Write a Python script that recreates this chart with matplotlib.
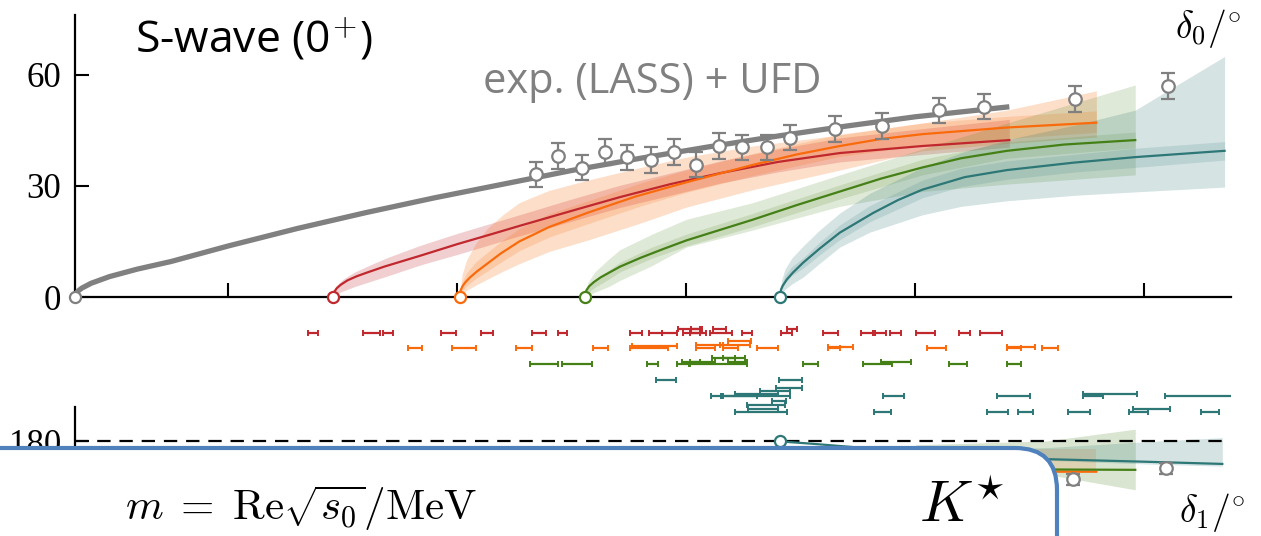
import numpy as np
import matplotlib
matplotlib.use("Agg")
import matplotlib.pyplot as plt
from matplotlib.patches import FancyBboxPatch

plt.rcParams['mathtext.fontset'] = 'cm'

# ---------------------------------------------------------------
# data (m in MeV, phases in degrees)
# ---------------------------------------------------------------
m_min, m_max = 633.0, 1137.8
thresholds = [633.0, 745.7, 801.0, 855.7, 940.9]

# experiment (LASS) S-wave points
lass_m = [834.3, 843.9, 854.4, 864.4, 874.0, 884.5, 894.6, 904.2, 914.2, 924.3,
          935.2, 945.2, 964.9, 985.4, 1010.3, 1030.0, 1069.7, 1110.3]
lass_d0 = [33.2, 38.1, 34.9, 39.2, 37.8, 37.0, 39.2, 35.7, 40.8, 40.5,
           40.5, 43.0, 45.4, 46.2, 50.5, 51.4, 53.5, 57.0]
lass_err = [3.4, 3.4, 3.4, 3.4, 3.4, 3.4, 3.4, 3.4, 3.4, 3.4,
            3.4, 3.4, 3.4, 3.4, 3.4, 3.4, 3.5, 3.5]

# UFD curve
ufd_m = [633, 633.5, 634.5, 636, 640, 648, 660, 675, 700, 730, 760, 790, 820, 850, 880, 910,
         940, 970, 1000, 1041]
ufd_d0 = [0, 1.0, 1.7, 2.4, 3.7, 5.5, 7.5, 9.6, 13.8, 18.5, 22.8, 26.8, 30.5, 34.2, 37.5,
          40.6, 43.5, 46.2, 48.7, 51.4]

# lattice fits, S-wave (central curves)
red_m = [745.7, 746.2, 747.2, 749, 752, 756, 760.5, 768, 776, 784, 800, 815, 827, 850, 871,
         893, 915, 940, 967, 1003, 1041]
red_d0 = [0, 1.4, 2.3, 3.3, 4.5, 5.6, 6.6, 8.2, 9.7, 11.2, 14.3, 17.0, 19.2, 23.3, 27.0,
          30.5, 33.5, 36.5, 38.9, 40.8, 42.4]
ora_m = [801, 801.4, 802.2, 803.5, 805.5, 808.5, 813, 819, 827, 840, 857, 878, 900, 929, 948,
         967, 985, 1003, 1040, 1079]
ora_d0 = [0, 1.8, 2.9, 4.0, 5.3, 6.9, 9.0, 11.8, 15.0, 18.9, 22.8, 27.2, 31.0, 35.7, 38.5,
          40.8, 42.7, 44.0, 45.8, 47.1]
grn_m = [855.7, 856.3, 857.5, 859.5, 862.5, 866, 871, 880, 890, 900, 915, 929, 948, 967, 985,
         1003, 1020, 1040, 1065, 1096]
grn_d0 = [0, 1.8, 2.9, 4.0, 5.3, 6.5, 8.2, 10.6, 13.0, 15.3, 18.2, 20.9, 24.8, 28.5, 32.0,
          35.0, 37.5, 39.5, 41.2, 42.4]
tea_m = [940.9, 941.3, 942, 943.8, 946.5, 951, 958.4, 967, 981.5, 992.4, 1003, 1021.6, 1040,
         1069, 1096, 1135]
tea_d0 = [0, 2.0, 3.0, 4.7, 6.6, 9.3, 13.2, 17.4, 22.7, 26.2, 29.0, 32.4, 34.3, 36.3, 37.8, 39.5]

# error bands (outer, inner)
red_bm = [745.7, 747, 750, 755, 762, 770, 784, 800, 827, 850, 871, 895, 915, 940, 967, 1003, 1041]
red_lo = [0, 0.8, 1.6, 2.8, 4.2, 5.8, 8.7, 11.5, 16.5, 20.5, 24.2, 27.8, 30.8, 33.8, 36.5, 38.5, 40.5]
red_hi = [0, 3.0, 4.8, 6.7, 8.7, 10.8, 14.0, 17.2, 22.2, 26.5, 30.2, 33.8, 36.8, 40.0, 43.0, 45.5, 48.0]

ora_bm = [801, 802, 804, 808, 813, 820, 827, 840, 857, 880, 900, 929, 967, 1003, 1040, 1079]
ora_lo = [0, 0.8, 1.8, 3.2, 4.8, 7.0, 9.0, 12.3, 15.4, 20.0, 24.3, 29.0, 34.3, 39.5, 41.5, 43.2]
ora_hi = [0, 6.0, 10.0, 14.5, 18.5, 22.3, 25.5, 28.8, 31.6, 35.0, 37.8, 40.8, 43.8, 47.0, 50.5, 55.7]
ora_lo2 = [0, 1.5, 3.0, 5.0, 7.0, 9.8, 12.5, 16.2, 19.8, 24.6, 28.3, 32.8, 38.0, 41.0, 42.8, 44.5]
ora_hi2 = [0, 4.0, 6.5, 9.5, 12.0, 15.5, 18.5, 22.5, 26.0, 30.8, 34.3, 38.8, 44.0, 47.0, 48.8, 50.3]

grn_bm = [855.7, 857, 860, 866, 871, 885, 900, 929, 967, 1003, 1040, 1096]
grn_lo = [0, 0.5, 1.3, 2.8, 4.5, 8.5, 13.5, 18.1, 24.5, 28.5, 30.5, 33.0]
grn_hi = [0, 4.0, 6.8, 10.2, 12.8, 17.0, 21.0, 25.5, 33.0, 40.0, 47.0, 57.3]
grn_lo2 = [0, 1.2, 2.6, 4.8, 6.8, 10.5, 13.8, 19.0, 26.5, 33.0, 37.5, 40.3]
grn_hi2 = [0, 2.8, 4.6, 7.2, 9.4, 13.5, 17.0, 22.6, 30.3, 37.2, 41.9, 44.6]

tea_bm = [940.9, 941.5, 943, 946, 951, 958, 967, 980, 1003, 1020, 1040, 1070, 1096, 1135]
tea_lo = [0, 0.8, 2.0, 3.5, 5.4, 9.0, 13.5, 17.5, 22.2, 24.5, 26.0, 27.5, 28.4, 29.7]
tea_hi = [0, 4.5, 7.5, 10.5, 13.8, 18.0, 22.7, 28.0, 35.0, 39.0, 42.5, 46.5, 50.5, 65.0]
tea_lo2 = [0, 1.8, 3.8, 5.8, 7.8, 11.3, 15.5, 20.3, 26.8, 29.8, 31.8, 33.8, 35.0, 37.0]
tea_hi2 = [0, 3.2, 5.8, 8.2, 10.6, 14.7, 19.5, 24.7, 31.6, 34.8, 36.8, 38.6, 40.2, 42.0]

# P-wave (visible part)
p_tea_m = [940.9, 945, 954, 980, 1020, 1057, 1100, 1134]
p_tea_d1 = [180, 179.7, 179.3, 178.0, 176.5, 175.1, 174.4, 173.8]
p_tea_band_m = [1040, 1057, 1100, 1134]
p_tea_lo = [174.8, 174.8, 173.8, 173.2]
p_tea_hi = [178.0, 178.2, 179.8, 180.9]
p_grn_m = [1000, 1057, 1096]
p_grn_d1 = [173.5, 172.3, 172.2]
p_grn_lo = [173.0, 171.0, 166.8]
p_grn_hi = [179.0, 180.0, 183.2]
p_ora_m = [1000, 1061.7, 1079]
p_ora_d1 = [172.5, 171.7, 171.7]
p_ora_lo = [171.4, 171.4, 171.4]
p_ora_hi = [177.8, 177.8, 177.8]
lass_p_m = [1068.9, 1109.4]
lass_d1 = [169.6, 172.6]
lass_p_err = [1.6, 1.5]

# mass ranges (pole positions) per ensemble, row = stacking level
red_ml = [734.9, 758.9, 767.4, 792.7, 810.3, 832.4, 843.8, 875.4, 883.8, 889.2, 896.4, 898.5, 901.6,
          902.0, 910.3, 911.4, 924.1, 941.2, 943.8, 959.8, 976.1, 982.3, 988.9, 1000.2, 1018.9, 1028.2]
red_mh = [739.0, 766.2, 772.0, 799.2, 815.4, 838.5, 848.0, 880.5, 889.2, 895.7, 905.9, 905.9, 908.5,
          907.0, 919.8, 917.3, 928.8, 946.0, 948.4, 966.0, 981.6, 987.0, 993.7, 1008.5, 1023.8, 1037.7]
red_row = [0, 0, 0, 0, 0, 0, 0, 0, 0, 0, -0.2, 0, 0,
           -0.25, 0, -0.2, 0, 0, -0.2, 0, 0, 0, 0, 0, 0, 0]

ora_ml = [778.3, 797.5, 825.6, 859.3, 875.4, 876.4, 904.2, 904.2, 915.8, 914.7, 918.3, 930.7,
          961.7, 961.7, 1004.9, 1040.1, 1040.1, 1055.4]
ora_mh = [784.4, 808.1, 832.7, 865.9, 892.1, 896.0, 912.5, 916.1, 922.4, 927.8, 928.2, 940.1,
          972.9, 967.0, 1013.2, 1052.2, 1046.0, 1062.1]
ora_row = [1, 1, 1, 1, 1, 0.85, 1, 0.75, 1, 0.75, 0.52, 1,
           0.88, 1, 1, 0.88, 1, 1]

grn_ml = [831.7, 845.8, 882.6, 895.7, 897.9, 901.6, 901.6, 911.0, 916.1, 918.3, 951.0, 977.2,
          985.0, 1014.7, 1040.1]
grn_mh = [844.0, 858.9, 887.7, 901.3, 905.9, 912.5, 926.3, 921.2, 925.6, 926.3, 957.3, 989.6,
          998.1, 1022.4, 1045.9]
grn_row = [2, 2, 2, 2, 1.85, 1.85, 2, 1.6, 1.6, 1.85, 2, 2,
           1.85, 2, 2]

tea_ml = [886.7, 940.6, 939.1, 932.1, 910.6, 914.9, 915.8, 921.0, 986.0, 1035.7, 1073.3, 1073.3,
          1109.0, 921.2, 926.3, 937.2, 927.0, 981.9, 1031.1, 1044.9, 1066.8, 1093.3, 1095.1, 1124.7]
tea_mh = [895.3, 950.3, 950.3, 945.2, 914.9, 945.2, 930.7, 940.0, 995.1, 1050.0, 1096.6, 1082.0,
          1138.5, 943.8, 943.0, 943.5, 940.0, 989.3, 1040.5, 1051.5, 1076.2, 1101.4, 1111.2, 1132.7]
tea_row = [3, 3, 3.5, 3.7, 4, 4, 4, 3.85, 4, 4, 3.9, 4,
           4, 5, 4.6, 4.35, 4.8, 5, 5, 5, 5, 5, 4.85, 5]

# ---------------------------------------------------------------
grey = '#808080'
c_red, c_ora, c_grn, c_tea = '#c0282e', '#f96a0c', '#458017', '#2d7776'
serif = ['Liberation Serif', 'DejaVu Serif']
sans = ['Open Sans', 'DejaVu Sans']

W, H = 1261, 536
fig = plt.figure(figsize=(W / 100, H / 100), dpi=100)


def px_axes(x0, y0, x1, y1):
    # figure-pixel box (top-left origin) -> axes
    return fig.add_axes([x0 / W, 1 - y1 / H, (x1 - x0) / W, (y1 - y0) / H])


# ---------- top panel: S-wave ----------
ax = px_axes(75, 15, 1231, 297)
ax.set_xlim(m_min, m_max)
ax.set_ylim(0, 76.2)

bands = [(red_bm, red_lo, red_hi, c_red, 0.22), (ora_bm, ora_lo, ora_hi, c_ora, 0.22),
         (ora_bm, ora_lo2, ora_hi2, c_ora, 0.18), (grn_bm, grn_lo, grn_hi, c_grn, 0.17),
         (grn_bm, grn_lo2, grn_hi2, c_grn, 0.15), (tea_bm, tea_lo, tea_hi, c_tea, 0.2),
         (tea_bm, tea_lo2, tea_hi2, c_tea, 0.15)]
for mm, lo, hi, c, a in bands:
    ax.fill_between(mm, lo, hi, color=c, alpha=a, lw=0)

ax.plot(ufd_m, ufd_d0, color=grey, lw=3.8, solid_capstyle='butt', zorder=3)
for mm, dd, c in [(red_m, red_d0, c_red), (ora_m, ora_d0, c_ora),
                  (grn_m, grn_d0, c_grn), (tea_m, tea_d0, c_tea)]:
    ax.plot(mm, dd, color=c, lw=1.6, zorder=4)

ax.errorbar(lass_m, lass_d0, yerr=lass_err, fmt='o', ms=9, mfc='white', mec=grey, mew=1.6,
            ecolor=grey, elinewidth=1.6, capsize=5, capthick=1.6, zorder=6)

for t, c in zip(thresholds, [grey, c_red, c_ora, c_grn, c_tea]):
    ax.plot([t], [0], 'o', ms=8, mfc='white', mec=c, mew=1.6, clip_on=False, zorder=8)

for s in ['top', 'right']:
    ax.spines[s].set_visible(False)
for s in ['left', 'bottom']:
    ax.spines[s].set_linewidth(1.6)
ax.set_xticks([700, 800, 900, 1000, 1100])
ax.set_xticklabels([])
ax.set_yticks([0, 30, 60])
ax.tick_params(direction='in', length=10, width=1.5, labelsize=25, pad=10)
for lab in ax.get_yticklabels():
    lab.set_fontfamily(serif)

# ---------- bottom panel: P-wave ----------
axb = px_axes(75, 407, 1231, 536)
axb.patch.set_visible(False)
axb.set_xlim(m_min, m_max)
axb.set_ylim(154.3, 189.2)
axb.plot([m_min, 1134], [180, 180], color='black', lw=1.6, dashes=(6, 4))
axb.fill_between(p_grn_m, p_grn_lo, p_grn_hi, color=c_grn, alpha=0.2, lw=0)
axb.fill_between(p_ora_m, p_ora_lo, p_ora_hi, color=c_ora, alpha=0.15, lw=0)
axb.fill_between(p_tea_band_m, p_tea_lo, p_tea_hi, color=c_tea, alpha=0.2, lw=0)
axb.plot(p_ora_m, p_ora_d1, color=c_ora, lw=1.6)
axb.plot(p_grn_m, p_grn_d1, color=c_grn, lw=1.6)
axb.plot(p_tea_m, p_tea_d1, color=c_tea, lw=1.6)
axb.errorbar(lass_p_m, lass_d1, yerr=lass_p_err, fmt='o', ms=9, mfc='white', mec=grey, mew=1.6,
             ecolor=grey, elinewidth=1.6, capsize=5, capthick=1.6, zorder=6)
axb.plot([thresholds[-1]], [180], 'o', ms=8, mfc='white', mec=c_tea, mew=1.6, zorder=8)
for s in ['top', 'right', 'bottom']:
    axb.spines[s].set_visible(False)
axb.spines['left'].set_linewidth(1.6)
axb.set_xticks([])
axb.set_yticks([180])
axb.tick_params(direction='in', length=10, width=1.5, labelsize=25, pad=10)
for lab in axb.get_yticklabels():
    lab.set_fontfamily(serif)

# ---------- middle: pole positions ----------
axm = px_axes(75, 320, 1231, 420)
axm.set_xlim(m_min, m_max)
axm.set_ylim(5.52, -0.8)
axm.axis('off')
for lo, hi, row, c in [(red_ml, red_mh, red_row, c_red), (ora_ml, ora_mh, ora_row, c_ora),
                       (grn_ml, grn_mh, grn_row, c_grn), (tea_ml, tea_mh, tea_row, c_tea)]:
    lo, hi = np.array(lo), np.array(hi)
    axm.errorbar((lo + hi) / 2, row, xerr=(hi - lo) / 2, fmt='none', ecolor=c,
                 elinewidth=1.6, capsize=2.4, capthick=1.4)

# ---------- overlay: box and labels ----------
ov = fig.add_axes([0, 0, 1, 1])
ov.patch.set_visible(False)
ov.set_xlim(0, W)
ov.set_ylim(H, 0)
ov.axis('off')
ov.add_patch(FancyBboxPatch((-80, 448), 1137, 200, boxstyle='round,pad=0,rounding_size=42',
                            fc='white', ec='#4f81bd', lw=3.0))

ov.text(254, 40, 'S-wave (0$^{+}$)', fontsize=32, family=sans, ha='center', va='center')
ov.text(652, 82, 'exp. (LASS) + UFD', fontsize=30, color=grey, family=sans,
        ha='center', va='center')
ov.text(1208, 28, r'$\delta_0/{}^{\circ}$', fontsize=27, ha='center', va='center')
ov.text(1212, 513, r'$\delta_1/{}^{\circ}$', fontsize=27, ha='center', va='center')
ov.text(301, 508, r'$m\;=\;\mathrm{Re}\sqrt{s_0}/\mathrm{MeV}$', fontsize=31,
        ha='center', va='center')
ov.text(962, 506, r'$K^{\star}$', fontsize=42, ha='center', va='center')

fig.savefig('out.png', dpi=100)
